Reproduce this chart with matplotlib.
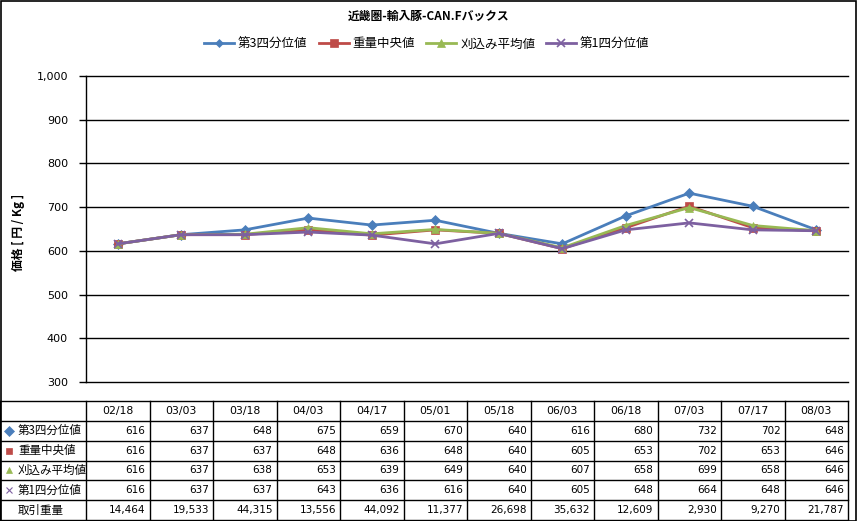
import matplotlib
matplotlib.use("Agg")
import matplotlib.pyplot as plt
from matplotlib.patches import Rectangle

plt.rcParams['font.family'] = ['Noto Sans CJK JP', 'DejaVu Sans']

# データ
dates = ["02/18", "03/03", "03/18", "04/03", "04/17", "05/01",
         "05/18", "06/03", "06/18", "07/03", "07/17", "08/03"]
q3 = [616, 637, 648, 675, 659, 670, 640, 616, 680, 732, 702, 648]
median_w = [616, 637, 637, 648, 636, 648, 640, 605, 653, 702, 653, 646]
trim_mean = [616, 637, 638, 653, 639, 649, 640, 607, 658, 699, 658, 646]
q1 = [616, 637, 637, 643, 636, 616, 640, 605, 648, 664, 648, 646]
volume = [14464, 19533, 44315, 13556, 44092, 11377,
          26698, 35632, 12609, 2930, 9270, 21787]

series_names = ["第3四分位値", "重量中央値", "刈込み平均値", "第1四分位値"]
series_vals = [q3, median_w, trim_mean, q1]
colors = ["#4A7EBB", "#BE4B48", "#98B954", "#7D60A0"]
markers = ["D", "s", "^", "x"]
msizes = [5, 6, 6, 6]

W, H = 857, 521
fig = plt.figure(figsize=(W / 100, H / 100), dpi=100)

# グラフ領域 (ピクセル単位で配置)
left, right, top, bottom = 86, 848, 76, 382
ax = fig.add_axes([left / W, 1 - bottom / H, (right - left) / W, (bottom - top) / H])

x = range(len(dates))
for name, vals, c, m, ms in zip(series_names, series_vals, colors, markers, msizes):
    ax.plot(x, vals, color=c, marker=m, markersize=ms, linewidth=2.0,
            label=name, markeredgewidth=1.2 if m == "x" else 0.5)

ax.set_xlim(-0.5, len(dates) - 0.5)
ax.set_ylim(300, 1000)
ax.set_yticks(range(300, 1001, 100))
ax.set_yticklabels([f"{v:,}" for v in range(300, 1001, 100)], fontsize=8,
                   family=['DejaVu Sans'])
ax.yaxis.grid(True, color="black", linewidth=1)
for gl in ax.get_ygridlines():
    gl.set_clip_on(False)
ax.set_axisbelow(True)
ax.set_xticks([])
for s in ["top", "right", "bottom"]:
    ax.spines[s].set_visible(False)
ax.spines["left"].set_linewidth(1)
ax.tick_params(axis="y", length=5, width=1, pad=8)

fig.text(18 / W, 1 - 232 / H, "価格 [ 円 / Kg ]", rotation=90, ha="center", va="center",
         fontsize=8.5, fontweight="bold")
fig.text(0.5, 1 - 16 / H, "近畿圏-輸入豚-CAN.Fバックス", ha="center", va="center",
         fontsize=8.5, fontweight="bold")

leg = fig.legend(loc="center", bbox_to_anchor=(427 / W, 1 - 44 / H), ncol=4, frameon=False,
                 fontsize=9, handlelength=2.4, columnspacing=0.9, handletextpad=0.3,
                 markerscale=0.9)

# データテーブル
tab_top, tab_bot = 401, 520
tax = fig.add_axes([0, 1 - tab_bot / H, right / W, (tab_bot - tab_top) / H])
tax.set_xlim(0, right)
tax.set_ylim(tab_bot - tab_top, 0)
tax.axis("off")

col_w = (right - left) / len(dates)
row_h = (tab_bot - tab_top) / 6
n_rows = 6
for i in range(n_rows + 1):
    tax.plot([0, right], [i * row_h, i * row_h], color="black", linewidth=1, clip_on=False)
for j in range(len(dates) + 1):
    xx = left + j * col_w
    tax.plot([xx, xx], [0, n_rows * row_h], color="black", linewidth=1, clip_on=False)
tax.plot([0, 0], [0, n_rows * row_h], color="black", linewidth=1, clip_on=False)

for j, d in enumerate(dates):
    tax.text(left + (j + 0.5) * col_w, row_h * 0.5, d, ha="center", va="center",
             fontsize=7.8, family=['DejaVu Sans'])

for i, (name, vals, c, m) in enumerate(zip(series_names, series_vals, colors, markers)):
    yy = (i + 1.5) * row_h
    tax.plot([9], [yy], marker=m, color=c, markersize=5,
             markeredgewidth=0.8 if m == "x" else 0.5, clip_on=False)
    tax.text(18, yy, name, ha="left", va="center", fontsize=8.3)
    for j, v in enumerate(vals):
        tax.text(left + (j + 1) * col_w - 4, yy, f"{v}", ha="right", va="center",
                 fontsize=7.5, family=['DejaVu Sans'])

yy = 5.5 * row_h
tax.text(18, yy, "取引重量", ha="left", va="center", fontsize=8.3)
for j, v in enumerate(volume):
    tax.text(left + (j + 1) * col_w - 4, yy, f"{v:,}", ha="right", va="center",
             fontsize=7.5, family=['DejaVu Sans'])

# 外枠
fig.patches.append(Rectangle((0.5 / W, 0.5 / H), (W - 1.5) / W, (H - 1.5) / H,
                             transform=fig.transFigure, fill=False,
                             edgecolor="black", linewidth=1.2))

fig.savefig("out.png", dpi=100)
